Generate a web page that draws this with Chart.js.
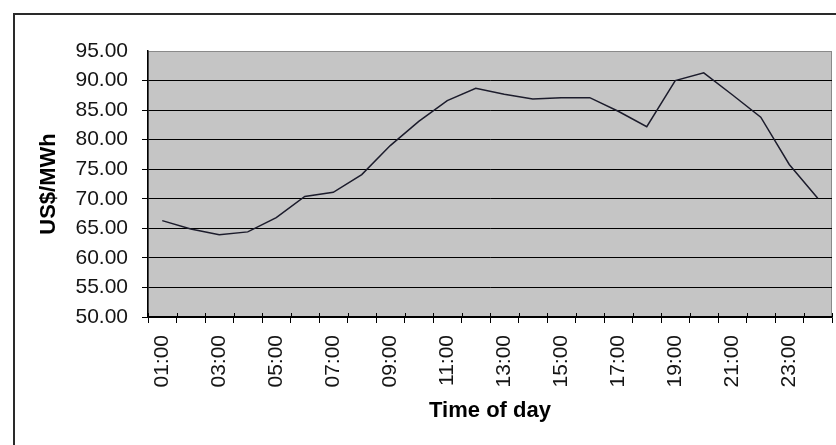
<!DOCTYPE html>
<html>
<head>
<meta charset="utf-8">
<title>US$/MWh by time of day</title>
<script src="https://cdn.jsdelivr.net/npm/chart.js@4.4.1/dist/chart.umd.min.js"></script>
<style>
    html, body { margin: 0; padding: 0; background: #ffffff; }
    #wrap { position: relative; width: 836px; height: 445px; }
</style>
</head>
<body>
<div id="wrap"><canvas id="priceChart" width="836" height="445"></canvas></div>
<script>
// ===========================
// Data
// ===========================

const hours = [
    '01:00', '02:00', '03:00', '04:00', '05:00', '06:00', '07:00', '08:00',
    '09:00', '10:00', '11:00', '12:00', '13:00', '14:00', '15:00', '16:00',
    '17:00', '18:00', '19:00', '20:00', '21:00', '22:00', '23:00', '24:00'
];

const prices = [
    66.3, 64.9, 63.9, 64.4, 66.8, 70.4, 71.1, 74.1,
    79.0, 83.1, 86.6, 88.7, 87.7, 86.9, 87.1, 87.1,
    84.8, 82.2, 90.0, 91.3, 87.6, 83.8, 75.8, 70.1
];

const yMin = 50;
const yMax = 95;
const yStep = 5;

// ===========================
// Plugins
// ===========================

// outer frame + grey plot area
const frameAndPlot = {
    id: 'frameAndPlot',
    beforeDraw(chart) {
        const { ctx, chartArea } = chart;
        ctx.save();
        ctx.strokeStyle = '#2a2a2a';
        ctx.lineWidth = 2;
        ctx.beginPath();
        ctx.moveTo(14, 445);
        ctx.lineTo(14, 14);
        ctx.lineTo(836, 14);
        ctx.stroke();

        ctx.fillStyle = '#c5c5c5';
        ctx.fillRect(chartArea.left, chartArea.top,
            chartArea.right - chartArea.left, chartArea.bottom - chartArea.top);
        ctx.strokeStyle = '#8a8a8a';
        ctx.lineWidth = 1;
        ctx.strokeRect(chartArea.left + 0.5, chartArea.top + 0.5,
            chartArea.right - chartArea.left - 1, chartArea.bottom - chartArea.top - 1);
        ctx.restore();
    },
    // Excel-style "cross" tick marks: short stub above the category axis too
    afterDraw(chart) {
        const { ctx } = chart;
        const x = chart.scales.x;
        const n = hours.length;
        const step = (x.right - x.left) / n;
        ctx.save();
        ctx.strokeStyle = '#000000';
        ctx.lineWidth = 1;
        ctx.beginPath();
        for (let i = 0; i <= n; i++) {
            const px = Math.round(x.left + i * step) + 0.5;
            ctx.moveTo(px, x.top - 4);
            ctx.lineTo(px, x.top);
        }
        ctx.stroke();
        ctx.restore();
    }
};

// ===========================
// Chart
// ===========================

const ctx = document.getElementById('priceChart');

new Chart(ctx, {
    type: 'line',
    data: {
        labels: hours,
        datasets: [{
            data: prices,
            borderColor: '#1c1c2c',
            borderWidth: 1.5,
            pointRadius: 0,
            tension: 0,
            fill: false
        }]
    },
    options: {
        responsive: false,
        animation: false,
        layout: {
            padding: { top: 51, right: 4, bottom: 0, left: 0 }
        },
        plugins: {
            legend: { display: false },
            tooltip: { enabled: false }
        },
        scales: {
            x: {
                offset: true,
                afterFit: (scale) => {
                    scale.height = 128;
                    scale.paddingLeft = 0;
                    scale.paddingRight = 0;
                },
                border: { color: '#000000', width: 1.5 },
                grid: {
                    offset: true,
                    drawOnChartArea: false,
                    drawTicks: true,
                    tickLength: 6,
                    color: '#000000'
                },
                ticks: {
                    autoSkip: false,
                    maxRotation: 90,
                    minRotation: 90,
                    padding: 12,
                    color: '#151515',
                    font: { family: '"Liberation Sans", Arial, sans-serif', size: 21 },
                    callback: function (value, index) {
                        return index % 2 === 0 ? hours[index] : '';
                    }
                },
                title: {
                    display: true,
                    text: 'Time of day',
                    color: '#000000',
                    padding: { top: 0, bottom: 21 },
                    font: { family: '"Liberation Sans", Arial, sans-serif', size: 22, weight: 'bold' }
                }
            },
            y: {
                min: yMin,
                max: yMax,
                afterFit: (scale) => { scale.width = 148; },
                border: { color: '#000000', width: 1.5 },
                grid: {
                    color: (c) => (c.tick && c.tick.value === yMax) ? 'rgba(0,0,0,0)' : '#000000',
                    lineWidth: 1,
                    tickLength: 6
                },
                ticks: {
                    stepSize: yStep,
                    padding: 14,
                    color: '#151515',
                    font: { family: '"Liberation Sans", Arial, sans-serif', size: 21 },
                    callback: (v) => Number(v).toFixed(2)
                },
                title: {
                    display: true,
                    text: 'US$/MWh',
                    color: '#000000',
                    padding: { top: 36, bottom: 0 },
                    font: { family: '"Liberation Sans", Arial, sans-serif', size: 22, weight: 'bold' }
                }
            }
        }
    },
    plugins: [frameAndPlot]
});
</script>
</body>
</html>
